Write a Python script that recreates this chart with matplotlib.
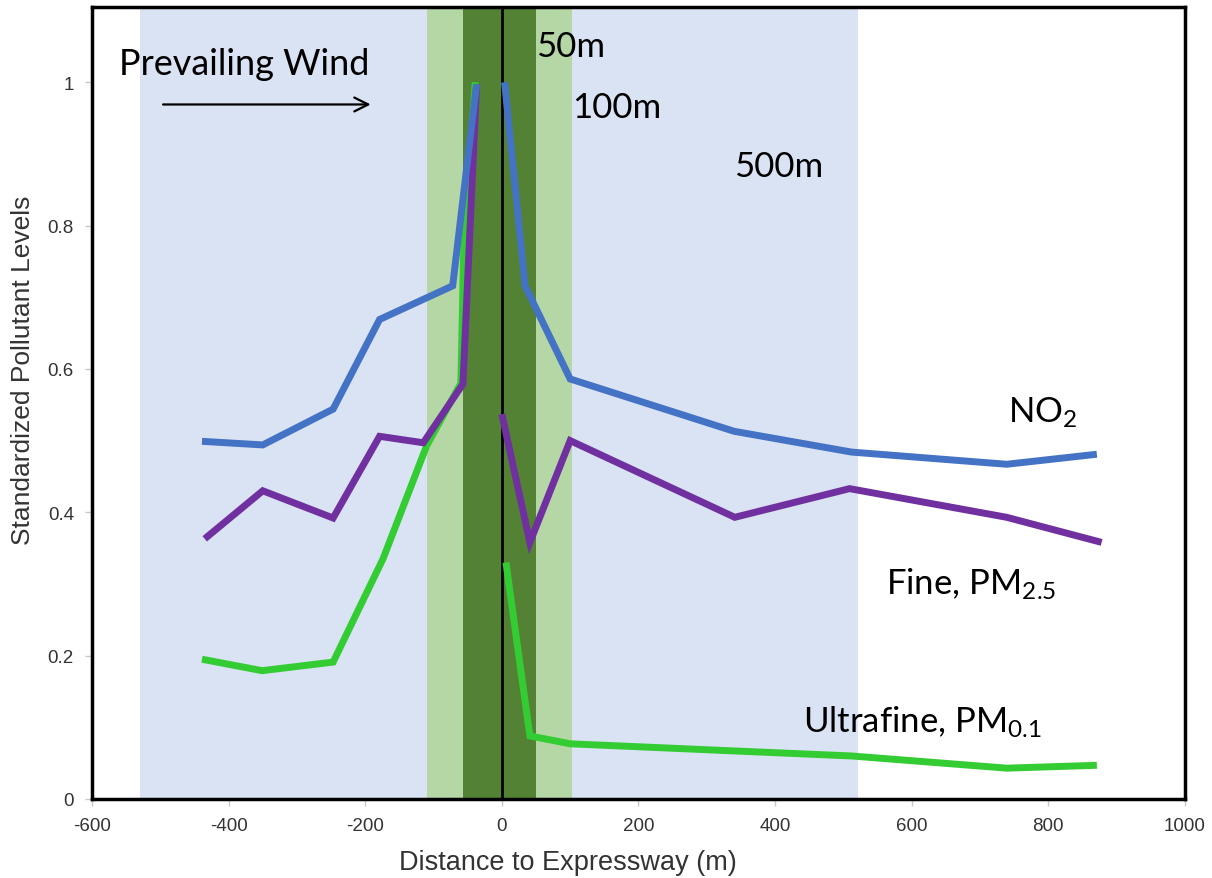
import matplotlib
matplotlib.use("Agg")
import matplotlib.pyplot as plt

# ---- data ----
no2_left_x = [-439, -350, -247, -179, -72, -37]
no2_left_y = [0.499, 0.494, 0.544, 0.669, 0.716, 0.997]
no2_right_x = [4, 34, 100, 340, 512, 739, 871]
no2_right_y = [1.0, 0.716, 0.586, 0.513, 0.484, 0.467, 0.481]

pm25_left_x = [-435, -350, -247, -179, -115, -57, -37]
pm25_left_y = [0.363, 0.430, 0.392, 0.506, 0.497, 0.579, 0.997]
pm25_right_x = [0, 41, 100, 341, 509, 739, 878]
pm25_right_y = [0.537, 0.358, 0.500, 0.393, 0.433, 0.393, 0.358]

pm01_left_x = [-439, -351, -247, -174, -110, -60, -56, -39]
pm01_left_y = [0.195, 0.179, 0.191, 0.335, 0.493, 0.580, 0.760, 1.0]
pm01_right_x = [6, 41, 100, 341, 512, 739, 871]
pm01_right_y = [0.330, 0.088, 0.077, 0.067, 0.060, 0.043, 0.047]

zone_500 = (-530, 522)
zone_100 = (-109, 103)
zone_50 = (-57, 50)

x_ticks = [-600, -400, -200, 0, 200, 400, 600, 800, 1000]
y_ticks = [0, 0.2, 0.4, 0.6, 0.8, 1.0]
y_tick_labels = ["0", "0.2", "0.4", "0.6", "0.8", "1"]

plt.rcParams["mathtext.fontset"] = "custom"
plt.rcParams["mathtext.rm"] = "Lato"
plt.rcParams["mathtext.it"] = "Lato"

fig = plt.figure(figsize=(12.12, 8.79), dpi=100)
ax = fig.add_axes([0.0759, 0.0899, 0.9777 - 0.0759, 0.9909 - 0.0899])

ax.axvspan(*zone_500, color="#DAE3F3", zorder=0, lw=0)
ax.axvspan(*zone_100, color="#B5D6A5", zorder=1, lw=0)
ax.axvspan(*zone_50, color="#548235", zorder=2, lw=0)
ax.axvline(0, color="black", lw=2, zorder=3)

lw = 5
green = "#33CC33"
purple = "#7030A0"
blue = "#4472C4"
for xs, ys, c, z in [(pm01_left_x, pm01_left_y, green, 4),
                     (pm01_right_x, pm01_right_y, green, 4),
                     (pm25_left_x, pm25_left_y, purple, 5),
                     (pm25_right_x, pm25_right_y, purple, 5),
                     (no2_left_x, no2_left_y, blue, 6),
                     (no2_right_x, no2_right_y, blue, 6)]:
    ax.plot(xs, ys, color=c, lw=lw, zorder=z, solid_joinstyle="miter",
            solid_capstyle="butt")

ax.set_xlim(-600, 1000)
ax.set_ylim(0, 1.105)
ax.set_xticks(x_ticks)
ax.set_xticklabels([str(t) for t in x_ticks])
ax.set_yticks(y_ticks)
ax.set_yticklabels(y_tick_labels)

for s in ax.spines.values():
    s.set_linewidth(2.5)
    s.set_color("black")
    s.set_zorder(10)

ax.tick_params(axis="both", direction="out", length=5, width=1, color="#C8C8C8",
               labelsize=13.5, labelcolor="#333333", pad=8)
for lab in ax.get_xticklabels() + ax.get_yticklabels():
    lab.set_family("Liberation Sans")

ax.set_xlabel("Distance to Expressway (m)", fontsize=19.5, family="Liberation Sans",
              color="#333333")
ax.xaxis.set_label_coords(0.435, -0.063)
ax.set_ylabel("Standardized Pollutant Levels", fontsize=19, family="Liberation Sans",
              color="#333333")
ax.yaxis.set_label_coords(-0.052, 0.543)

tf = dict(family="Lato", color="black", zorder=12, va="baseline", ha="left")
ax.text(-560, 1.011, "Prevailing Wind", fontsize=26, **tf)
ax.annotate("", xy=(-188, 0.969), xytext=(-500, 0.969),
            arrowprops=dict(arrowstyle="->", lw=1.6, color="black", mutation_scale=25),
            zorder=12)
ax.text(50, 1.036, "50m", fontsize=25, **tf)
ax.text(103, 0.951, "100m", fontsize=25, **tf)
ax.text(340, 0.869, "500m", fontsize=25, **tf)
ax.text(741, 0.526, r"NO$_\mathrm{2}$", fontsize=25, **tf)
ax.text(562, 0.286, r"Fine, PM$_\mathrm{2.5}$", fontsize=25, **tf)
ax.text(441, 0.0934, r"Ultrafine, PM$_\mathrm{0.1}$", fontsize=25, **tf)

fig.savefig("out.png", dpi=100, facecolor="white")
